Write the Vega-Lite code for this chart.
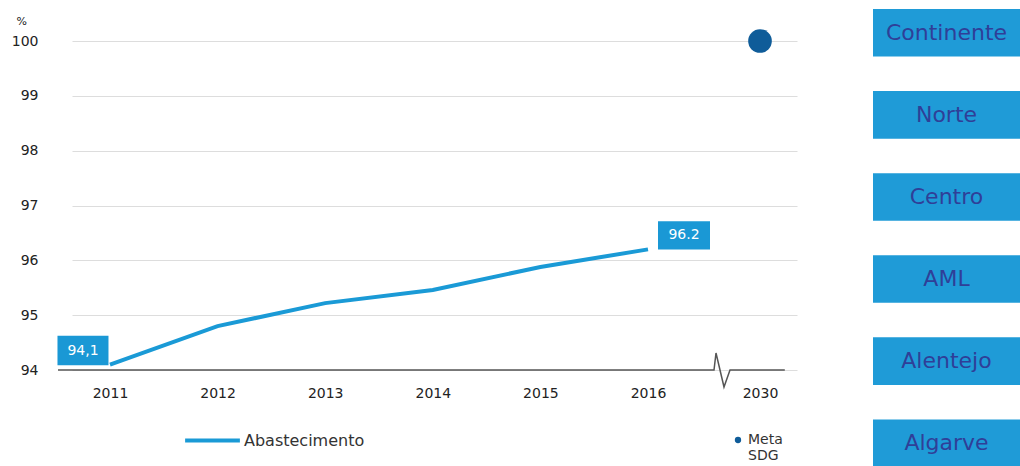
{
  "$schema": "https://vega.github.io/schema/vega-lite/v6.json",
  "padding": {"left": 11, "top": 8, "right": 0, "bottom": 0},
  "background": "white",
  "spacing": 76,
  "config": {
    "view": {"stroke": null},
    "font": "DejaVu Sans",
    "axis": {"labelFont": "DejaVu Sans", "titleFont": "DejaVu Sans"},
    "legend": {"labelFont": "DejaVu Sans", "padding": 0}
  },
  "datasets": {
    "obs": [
      {"year": 2011, "value": 94.1, "series": "Abastecimento", "label": "94,1"},
      {"year": 2012, "value": 94.8, "series": "Abastecimento", "label": ""},
      {"year": 2013, "value": 95.22, "series": "Abastecimento", "label": ""},
      {"year": 2014, "value": 95.46, "series": "Abastecimento", "label": ""},
      {"year": 2015, "value": 95.88, "series": "Abastecimento", "label": ""},
      {"year": 2016, "value": 96.2, "series": "Abastecimento", "label": "96.2"}
    ],
    "meta": [
      {"year": 2030, "value": 100, "target": "Meta SDG"}
    ],
    "axisline": [
      {"year": 2010.517, "value": 94},
      {"year": 2024.25, "value": 94},
      {"year": 2024.5, "value": 94.31},
      {"year": 2025.5, "value": 93.69},
      {"year": 2026.25, "value": 94},
      {"year": 2033.1, "value": 94}
    ],
    "regions": [
      {"region": "Continente"},
      {"region": "Norte"},
      {"region": "Centro"},
      {"region": "AML"},
      {"region": "Alentejo"},
      {"region": "Algarve"}
    ]
  },
  "hconcat": [
    {
      "width": 725,
      "height": 361,
      "layer": [
        {
          "data": {"name": "axisline"},
          "mark": {"type": "line", "color": "#555555", "strokeWidth": 1.5},
          "encoding": {
            "x": {"field": "year", "type": "quantitative", "title": null},
            "y": {"field": "value", "type": "quantitative", "title": "%"}
          }
        },
        {
          "data": {"name": "obs"},
          "mark": {"type": "line", "strokeWidth": 4},
          "encoding": {
            "x": {
              "field": "year", "type": "quantitative", "title": null,
              "scale": {"type": "linear", "domain": [2010.647, 2016, 2030, 2034.625], "range": [0, 576, 688, 725], "nice": false, "zero": false},
              "axis": {"values": [2011, 2012, 2013, 2014, 2015, 2016, 2030], "format": "d", "domain": false, "ticks": false, "grid": false, "labelPadding": 16, "labelFontSize": 14, "labelColor": "#222222", "title": null}
            },
            "y": {
              "field": "value", "type": "quantitative", "title": "%",
              "scale": {"domain": [94, 100.584], "nice": false, "zero": false},
              "axis": {"values": [94, 95, 96, 97, 98, 99, 100], "format": "d", "domain": false, "ticks": false, "grid": true, "gridColor": "#dddddd", "gridWidth": 1.2, "labelPadding": 34, "labelFontSize": 14, "labelColor": "#222222", "title": "%", "titleAngle": 0, "titleAlign": "left", "titleBaseline": "middle", "titleX": -56, "titleY": 12, "titleFontSize": 11, "titleFontWeight": "normal", "titleColor": "#222222"}
            },
            "stroke": {
              "field": "series", "type": "nominal",
              "scale": {"range": ["#1a9ad6"]},
              "legend": {"orient": "none", "legendX": 111, "legendY": 402, "title": null, "symbolType": "stroke", "symbolSize": 3000, "symbolStrokeWidth": 4, "labelFontSize": 16, "labelColor": "#333333", "labelOffset": 2}
            }
          }
        },
        {
          "data": {"name": "meta"},
          "mark": {"type": "circle", "size": 560, "opacity": 1},
          "encoding": {
            "x": {"field": "year", "type": "quantitative"},
            "y": {"field": "value", "type": "quantitative"},
            "fill": {
              "field": "target", "type": "nominal",
              "scale": {"range": ["#0f5c99"]},
              "legend": {"orient": "none", "legendX": 659, "legendY": 424, "title": null, "symbolType": "circle", "symbolSize": 40, "labelFontSize": 14, "labelColor": "#333333", "labelOffset": 3, "labelExpr": "split(datum.label, ' ')", "labelBaseline": "middle"}
            }
          }
        },
        {
          "data": {"name": "obs"},
          "transform": [{"filter": "datum.year == 2011"}],
          "mark": {"type": "point", "filled": true, "opacity": 1, "color": "#1a98d5", "shape": "M-1,-0.58H1V0.58H-1Z", "size": 2601, "xOffset": -27, "yOffset": -14},
          "encoding": {
            "x": {"field": "year", "type": "quantitative"},
            "y": {"field": "value", "type": "quantitative"}
          }
        },
        {
          "data": {"name": "obs"},
          "transform": [{"filter": "datum.year == 2011"}],
          "mark": {"type": "text", "color": "white", "fontSize": 14, "dx": -27, "dy": -14, "align": "center", "baseline": "middle"},
          "encoding": {
            "x": {"field": "year", "type": "quantitative"},
            "y": {"field": "value", "type": "quantitative"},
            "text": {"field": "label"}
          }
        },
        {
          "data": {"name": "obs"},
          "transform": [{"filter": "datum.year == 2016"}],
          "mark": {"type": "point", "filled": true, "opacity": 1, "color": "#1a98d5", "shape": "M-1,-0.54H1V0.54H-1Z", "size": 2704, "xOffset": 36, "yOffset": -14},
          "encoding": {
            "x": {"field": "year", "type": "quantitative"},
            "y": {"field": "value", "type": "quantitative"}
          }
        },
        {
          "data": {"name": "obs"},
          "transform": [{"filter": "datum.year == 2016"}],
          "mark": {"type": "text", "color": "white", "fontSize": 14, "dx": 36, "dy": -14, "align": "center", "baseline": "middle"},
          "encoding": {
            "x": {"field": "year", "type": "quantitative"},
            "y": {"field": "value", "type": "quantitative"},
            "text": {"field": "label"}
          }
        }
      ]
    },
    {
      "width": 147,
      "height": 458,
      "data": {"name": "regions"},
      "layer": [
        {
          "mark": {"type": "rect", "color": "#1f9bd7"},
          "encoding": {
            "y": {"field": "region", "type": "nominal", "sort": null, "axis": null, "scale": {"paddingInner": 0.42, "paddingOuter": 0}}
          }
        },
        {
          "mark": {"type": "text", "color": "#2f3f98", "fontSize": 22, "font": "DejaVu Sans", "align": "center", "baseline": "middle"},
          "encoding": {
            "y": {"field": "region", "type": "nominal", "sort": null, "axis": null},
            "text": {"field": "region"}
          }
        }
      ]
    }
  ]
}
